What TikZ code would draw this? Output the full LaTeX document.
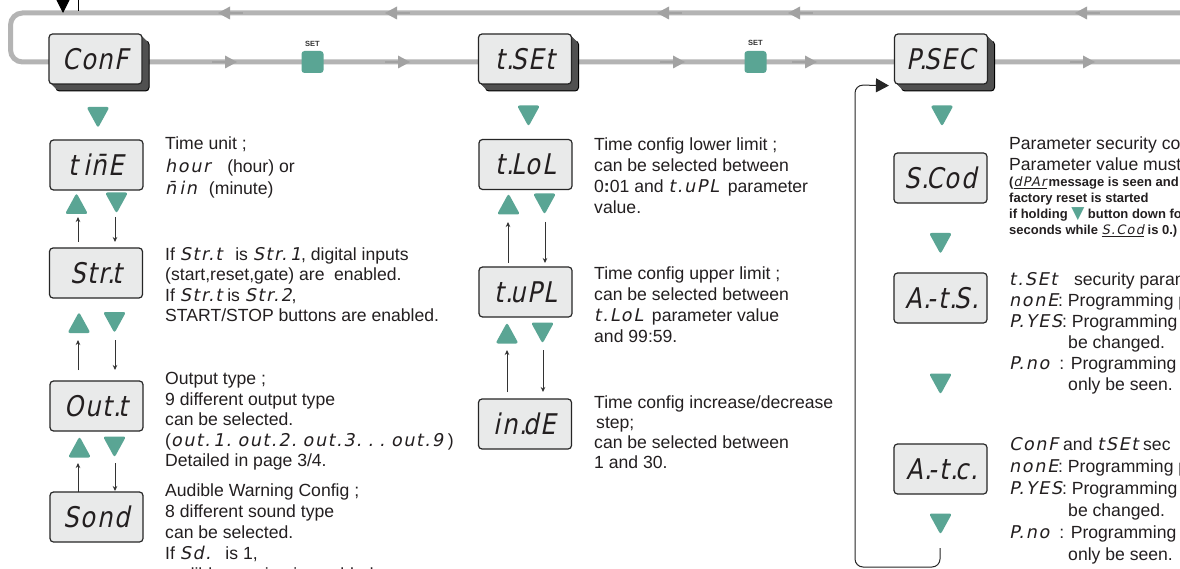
\documentclass[tikz,border=0pt]{standalone}
\usepackage{fontspec}
\setmainfont{Liberation Sans}
\newfontfamily\segf{DejaVu Sans}[FakeSlant=0.2,LetterSpace=9]
\newfontfamily\dispf{DejaVu Sans}[FakeSlant=0.2,FakeStretch=0.85,LetterSpace=6]
\newfontfamily\dvs{DejaVu Sans}
\usetikzlibrary{arrows.meta}
\definecolor{tealc}{HTML}{5AA594}
\definecolor{lgray}{HTML}{B4B4B4}
\definecolor{agray}{HTML}{A2A2A2}
\definecolor{face}{HTML}{E9EAEA}
\definecolor{shad}{HTML}{505050}
\definecolor{txtc}{HTML}{231F20}
\newcommand\sg[1]{{\mdseries\segf #1}}
\newcommand\dd{.\kern-3pt}
\newcommand\ml[2][21pt]{\vtop{\baselineskip=#1\relax\halign{##\hfil\cr#2\crcr}}}
\newcommand\fs{\fontsize{17.6}{21}\selectfont}
\newcommand\fb{\fontsize{13}{16}\selectfont\bfseries}
\newcommand\fd{\fontsize{28.5}{29}\selectfont\dispf}
\newcommand\topdisp[4]{%
  \filldraw[fill=shad,draw=black,line width=1pt,rounded corners=3.5pt] (#2-39.5,#3-18) rectangle (#2+53.5,#3+32);
  \foreach \i in {1,...,6}{\fill[shad,rounded corners=3.5pt] (#2-46.5+\i,#3-25+\i) rectangle (#2+46.5+\i,#3+25+\i);}
  \node[disp] (#1) at (#2,#3) {#4};}
\tikzset{
  disp/.style={draw=black!85,line width=1.2pt,fill=face,rounded corners=3.5pt,minimum width=93pt,minimum height=50pt,inner sep=0pt,font=\fd,text=txtc},
  gline/.style={draw=lgray,line width=5pt,rounded corners=12pt},
  txt/.style={anchor=base west,inner sep=0pt,font=\fs,text=txtc},
  bt/.style={anchor=base west,inner sep=0pt,font=\fb,text=txtc},
  sarr/.style={draw=black!80,line width=0.8pt,-{Stealth[length=5pt,width=4.5pt]}},
  lpath/.style={draw=black!85,line width=1pt,rounded corners=8pt},
  setbtn/.style={fill=tealc,rounded corners=3pt,minimum size=22pt,inner sep=0pt},
  setlbl/.style={font=\fontsize{7.5}{8}\selectfont\bfseries,text=black!80,inner sep=0pt},
  tridn/.pic={\fill[tealc,rounded corners=2.5pt] (-11.5,-10.5) -- (11.5,-10.5) -- (0,10.5) -- cycle;},
  triup/.pic={\fill[tealc,rounded corners=2.5pt] (-11.5,10.5) -- (11.5,10.5) -- (0,-10.5) -- cycle;}
}
\begin{document}
\begin{tikzpicture}[x=1pt,y=-1pt]
\useasboundingbox (0,0) rectangle (1180,569);
\fill[white] (0,0) rectangle (1180,569);
% main gray loop
\coordinate (gA) at (1190,13);
\coordinate (gB) at (1190,62);
\draw[gline] (gA) -- (10.5,13) -- (10.5,62) -- (gB);
\foreach \x in {218,385,657,788,1075}{
  \draw[agray,line width=2.2pt] (\x+12,13) -- (\x+25,13);
  \fill[agray] (\x,13) -- (\x+12,6.5) -- (\x+12,19.5) -- cycle;}
\foreach \x in {237,410,685,817,1095}{
  \draw[agray,line width=2.2pt] (\x-12,62) -- (\x-25,62);
  \fill[agray] (\x,62) -- (\x-12,55.5) -- (\x-12,68.5) -- cycle;}
% incoming arrows top-left
\coordinate (inA) at (63,-6); \coordinate (inB) at (63,13);
\draw[black,line width=1pt,-{Triangle[length=13pt,width=13pt]}] (inA) -- (inB);
\coordinate (inC) at (78,-6); \coordinate (inD) at (78,11);
\draw[black,line width=1pt] (inC) -- (inD);
% SET buttons
\node[setbtn] (set1) at (312.5,62) {};
\node[setlbl] (set1l) at (312.5,43.5) {SET};
\node[setbtn] (set2) at (755.5,62) {};
\node[setlbl] (set2l) at (755.5,42.5) {SET};
% top displays
\topdisp{conf}{95.5}{59}{ConF}
\topdisp{tset}{525}{59}{t\dd SEt}
\topdisp{psec}{941}{59}{P\dd SEC}

% ===== left column
\pic at (98,117.5) {tridn};
\node[disp] (time) at (96.5,165) {t\hspace{5pt}in̄E};
\pic at (76.5,203.5) {triup};
\pic at (116.5,203) {tridn};
\coordinate (l1a) at (78,242); \coordinate (l1b) at (78,217);
\draw[sarr] (l1a) -- (l1b);
\coordinate (l1c) at (115,217); \coordinate (l1d) at (115,242);
\draw[sarr] (l1c) -- (l1d);
\node[disp] (strt) at (96,273) {Str\dd t};
\pic at (79,322.5) {triup};
\pic at (114.5,322.5) {tridn};
\coordinate (l2a) at (78,370); \coordinate (l2b) at (78,340);
\draw[sarr] (l2a) -- (l2b);
\coordinate (l2c) at (115,340); \coordinate (l2d) at (115,370);
\draw[sarr] (l2c) -- (l2d);
\node[disp] (outt) at (96.5,406) {Out\dd t};
\pic at (79.5,447) {triup};
\pic at (114.5,447) {tridn};
\coordinate (l3a) at (78,492); \coordinate (l3b) at (78,463);
\draw[sarr] (l3a) -- (l3b);
\coordinate (l3c) at (115,463); \coordinate (l3d) at (115,491);
\draw[sarr] (l3c) -- (l3d);
\node[disp] (sond) at (96.5,517) {Sond};

\node[txt] (ttime) at (165,150) {\ml[22.5pt]{Time unit ;\cr \sg{hour}\hspace{17pt}(hour) or\cr \sg{n̄\hspace{3pt}in}\hspace{12pt}(minute)}};
\node[txt] (tstrt) at (165,260.5) {\ml[20.5pt]{If \sg{Str.t}\hspace{8pt} is \sg{Str.\,1}, digital inputs\cr (start,reset,gate) are\hspace{4.5pt} enabled.\cr If \sg{Str.t} is \sg{Str.2},\cr START/STOP buttons are enabled.}};
\node[txt] (toutt) at (165,384.5) {\ml[20.6pt]{Output type ;\cr 9 different output type\cr can be selected.\cr (\sg{out.\,1.\hspace{6pt}out.2.\hspace{6pt}out.3.\hspace{6pt}.\hspace{6pt}.\hspace{6pt}out.9} )\cr Detailed in page 3/4.}};
\node[txt] (tsond) at (165,496) {\ml[21pt]{Audible Warning Config ;\cr 8 different sound type\cr can be selected.\cr If \sg{Sd.}\hspace{8pt} is 1,\cr audible warning is enabled.}};

% ===== middle column
\pic at (528.5,116) {tridn};
\node[disp] (tlol) at (525.5,164.5) {t\dd LoL};
\pic at (508.5,204) {triup};
\pic at (544.5,204) {tridn};
\coordinate (m1a) at (508,263); \coordinate (m1b) at (508,222);
\draw[sarr] (m1a) -- (m1b);
\coordinate (m1c) at (545,222); \coordinate (m1d) at (545,263);
\draw[sarr] (m1c) -- (m1d);
\node[disp] (tupl) at (525.5,292) {t\dd uPL};
\pic at (507,333) {triup};
\pic at (542.5,333) {tridn};
\coordinate (m2a) at (507,392); \coordinate (m2b) at (507,350);
\draw[sarr] (m2a) -- (m2b);
\coordinate (m2c) at (543,350); \coordinate (m2d) at (543,392);
\draw[sarr] (m2c) -- (m2d);
\node[disp] (inde) at (525,424) {in\dd dE};

\node[txt] (ttlol) at (594,150.5) {\ml[21pt]{Time config lower limit ;\cr can be selected between\cr 0\textbf{:}01 and \sg{t.uPL}\hspace{4pt} parameter\cr value.}};
\node[txt] (ttupl) at (594,279.5) {\ml[21pt]{Time config upper limit ;\cr can be selected between\cr \sg{t.LoL}\hspace{4pt} parameter value\cr and 99:59.}};
\node[txt] (tinde) at (594,408) {\ml[20pt]{Time config increase/decrease\cr \hspace*{2pt}step;\cr can be selected between\cr 1 and 30.}};

% ===== right column
\pic at (942,116) {tridn};
\node[disp] (scod) at (940.5,178) {S\dd Cod};
\pic at (940.5,243.5) {tridn};
\node[disp] (ats) at (940.5,298) {A\dd -t\dd S\dd};
\pic at (940.5,384) {tridn};
\node[disp] (atc) at (940.5,469) {A\dd -t\dd c\dd};
\pic at (940.5,524) {tridn};
\coordinate (lpS) at (940,548);
\draw[lpath,-{Triangle[length=13pt,width=14pt]}] (lpS) -- (940,567) -- (855,567) -- (855,85) -- ([xshift=-5pt,yshift=-1pt]psec.south west);

\node[txt] (tscod) at (1009,150) {\ml[20.5pt]{Parameter security cod\cr Parameter value must}};
\node[bt] (tscodb) at (1009,187) {\ml[16pt]{(\underline{\sg{dPAr}}\,message is seen and\cr factory reset is started\cr if holding {\dvs\fontsize{17}{17}\selectfont\color{tealc}▼} button down fo\cr seconds while \underline{\sg{S.Cod}} is 0.)}};
\node[txt] (tats) at (1009,285) {\ml[21pt]{\sg{t.SEt}\hspace{12pt} security parame\cr \sg{nonE}: Programming p\cr \sg{P.YES}: Programming p\cr \hspace*{59pt}be changed.\cr \sg{P.no}\hspace{10pt}: Programming p\cr \hspace*{59pt}only be seen.}};
\node[txt] (tatc) at (1009,450) {\ml[22pt]{\sg{ConF} and \sg{tSEt} sec\cr \sg{nonE}: Programming p\cr \sg{P.YES}: Programming p\cr \hspace*{59pt}be changed.\cr \sg{P.no}\hspace{10pt}: Programming p\cr \hspace*{59pt}only be seen.}};
\end{tikzpicture}
\end{document}
